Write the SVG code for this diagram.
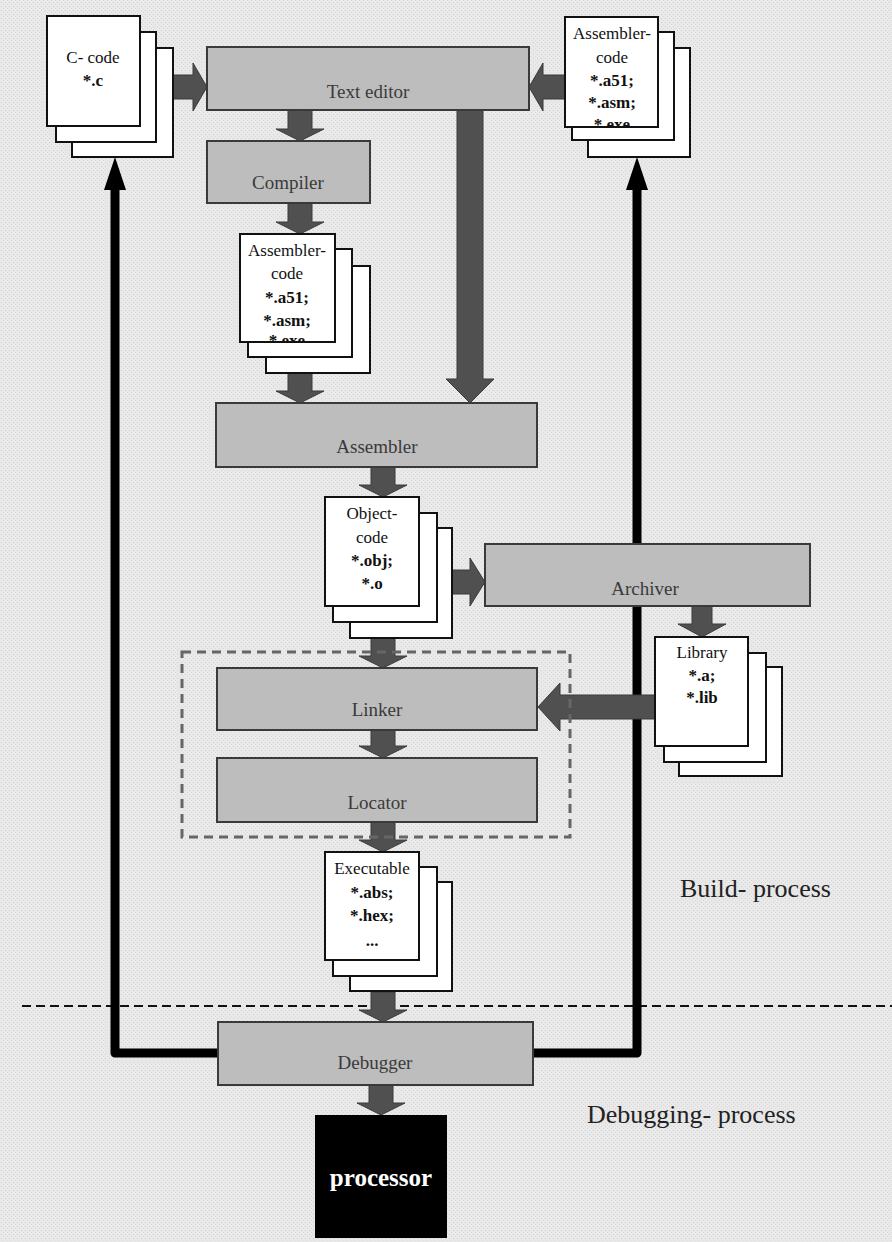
<svg xmlns="http://www.w3.org/2000/svg" width="892" height="1242" viewBox="0 0 892 1242">
<style>
.box{fill:#bdbdbd;stroke:#3a3a3a;stroke-width:2}
.pg{fill:#fff;stroke:#111;stroke-width:2}
.lbl{font-family:"Liberation Serif","Times New Roman",serif;font-size:19px;fill:#3a3a3a;text-anchor:middle}
.dt{font-family:"Liberation Serif","Times New Roman",serif;font-size:17px;fill:#111;text-anchor:middle}
.b{font-weight:bold}
.fat{fill:#505050;stroke:#3a3a3a;stroke-width:1}
.blk{fill:none;stroke:#000;stroke-width:9;stroke-linejoin:round}
.big{font-family:"Liberation Serif","Times New Roman",serif;font-size:26px;fill:#222}
</style>
<defs>
<clipPath id="cA"><rect x="240" y="234" width="95" height="108"/></clipPath>
<clipPath id="cB"><rect x="565" y="17" width="93" height="110"/></clipPath>
<pattern id="tex" width="4" height="4" patternUnits="userSpaceOnUse">
<rect width="4" height="4" fill="#e9e9e9"/>
<rect x="1" y="2" width="1" height="1" fill="#d2d2d2"/>
<rect x="3" y="0" width="1" height="1" fill="#dadada"/>
</pattern>
</defs>
<rect x="0" y="0" width="892" height="1242" fill="url(#tex)"/>
<line x1="22" y1="1006" x2="892" y2="1006" stroke="#111" stroke-width="2" stroke-dasharray="9,5"/>
<text class="big" x="680" y="897">Build- process</text>
<text class="big" x="587" y="1123">Debugging- process</text>

<g id="connectors">
<path class="blk" d="M218,1053 H115 V185"/>
<polygon points="115,157 104,190 126,190" fill="#000"/>
<path class="blk" d="M533,1053 H637 V185"/>
<polygon points="637,157 626,190 648,190" fill="#000"/>
<polygon class="fat" points="288,110 312,110 312,129 324,129 300,141 276,129 288,129"/>
<polygon class="fat" points="288,203 312,203 312,222 324,222 300,234 276,222 288,222"/>
<polygon class="fat" points="288,373 312,373 312,391 324,391 300,403 276,391 288,391"/>
<polygon class="fat" points="457,110 483,110 483,379 494,379 470,403 446,379 457,379"/>
<polygon class="fat" points="371,467 395,467 395,485 407,485 383,497 359,485 371,485"/>
<polygon class="fat" points="371,638 395,638 395,656 407,656 383,668 359,656 371,656"/>
<polygon class="fat" points="371,730 395,730 395,746 407,746 383,758 359,746 371,746"/>
<polygon class="fat" points="371,822 395,822 395,840 407,840 383,852 359,840 371,840"/>
<polygon class="fat" points="371,992 395,992 395,1010 407,1010 383,1022 359,1010 371,1010"/>
<polygon class="fat" points="369,1085 393,1085 393,1103 405,1103 381,1115 357,1103 369,1103"/>
<polygon class="fat" points="692,606 712,606 712,624 726,624 702,637 678,624 692,624"/>
<polygon class="fat" points="173,75 193,75 193,63 207,87 193,111 193,99 173,99"/>
<polygon class="fat" points="565,75 543,75 543,63 529,87 543,111 543,99 565,99"/>
<polygon class="fat" points="452,570 470,570 470,558 485,582 470,606 470,594 452,594"/>
<polygon class="fat" points="655,695 560,695 560,683 538,707 560,731 560,719 655,719"/>
</g>

<g id="linkgroup">
<rect x="182" y="652" width="388" height="185" fill="none" stroke="#666" stroke-width="3" stroke-dasharray="9,6"/>
</g>

<g id="textEditor">
<rect class="box" x="207" y="47" width="322" height="63"/>
<text class="lbl" x="368" y="98">Text editor</text>
</g>
<g id="compiler">
<rect class="box" x="207" y="141" width="163" height="62"/>
<text class="lbl" x="288" y="189">Compiler</text>
</g>
<g id="assembler">
<rect class="box" x="216" y="403" width="321" height="64"/>
<text class="lbl" x="377" y="453">Assembler</text>
</g>
<g id="archiver">
<rect class="box" x="485" y="544" width="325" height="62"/>
<text class="lbl" x="645" y="595">Archiver</text>
</g>
<g id="linker">
<rect class="box" x="217" y="668" width="320" height="62"/>
<text class="lbl" x="377" y="716">Linker</text>
</g>
<g id="locator">
<rect class="box" x="217" y="758" width="320" height="64"/>
<text class="lbl" x="377" y="809">Locator</text>
</g>
<g id="debugger">
<rect class="box" x="218" y="1022" width="315" height="63"/>
<text class="lbl" x="375" y="1069">Debugger</text>
</g>
<g id="processor">
<rect x="315" y="1115" width="132" height="123" fill="#000"/>
<text x="381" y="1186" font-family="Liberation Serif,'Times New Roman',serif" font-size="25" font-weight="bold" fill="#fff" text-anchor="middle">processor</text>
</g>

<g id="cCode">
<rect class="pg" x="72" y="48" width="101" height="109"/>
<rect class="pg" x="56" y="32" width="100" height="110"/>
<rect class="pg" x="47" y="16" width="93" height="110"/>
<text class="dt" x="93" y="63">C- code</text>
<text class="dt b" x="93" y="86">*.c</text>
</g>

<g id="asmCodeTop">
<rect class="pg" x="588" y="48" width="102" height="109"/>
<rect class="pg" x="572" y="32" width="102" height="108"/>
<rect class="pg" x="565" y="17" width="93" height="110"/>
<g clip-path="url(#cB)">
<text class="dt" x="612" y="39">Assembler-</text>
<text class="dt" x="612" y="63">code</text>
<text class="dt b" x="612" y="86">*.a51;</text>
<text class="dt b" x="612" y="108">*.asm;</text>
<text class="dt b" x="612" y="130">*.exe</text>
</g>
</g>

<g id="asmCodeMid">
<rect class="pg" x="266" y="266" width="104" height="107"/>
<rect class="pg" x="248" y="249" width="104" height="108"/>
<rect class="pg" x="240" y="234" width="95" height="108"/>
<g clip-path="url(#cA)">
<text class="dt" x="287" y="256">Assembler-</text>
<text class="dt" x="287" y="279">code</text>
<text class="dt b" x="287" y="303">*.a51;</text>
<text class="dt b" x="287" y="326">*.asm;</text>
<text class="dt b" x="287" y="346">*.exe</text>
</g>
</g>

<g id="objCode">
<rect class="pg" x="350" y="528" width="102" height="110"/>
<rect class="pg" x="333" y="513" width="104" height="109"/>
<rect class="pg" x="325" y="497" width="94" height="109"/>
<text class="dt" x="372" y="519">Object-</text>
<text class="dt" x="372" y="543">code</text>
<text class="dt b" x="372" y="566">*.obj;</text>
<text class="dt b" x="372" y="589">*.o</text>
</g>

<g id="library">
<rect class="pg" x="679" y="667" width="103" height="109"/>
<rect class="pg" x="664" y="653" width="102" height="109"/>
<rect class="pg" x="655" y="637" width="93" height="109"/>
<text class="dt" x="702" y="658">Library</text>
<text class="dt b" x="702" y="681">*.a;</text>
<text class="dt b" x="702" y="703">*.lib</text>
</g>

<g id="executable">
<rect class="pg" x="350" y="882" width="102" height="109"/>
<rect class="pg" x="333" y="867" width="104" height="109"/>
<rect class="pg" x="325" y="852" width="94" height="108"/>
<text class="dt" x="372" y="874">Executable</text>
<text class="dt b" x="372" y="898">*.abs;</text>
<text class="dt b" x="372" y="921">*.hex;</text>
<text class="dt b" x="372" y="946">...</text>
</g>
</svg>
